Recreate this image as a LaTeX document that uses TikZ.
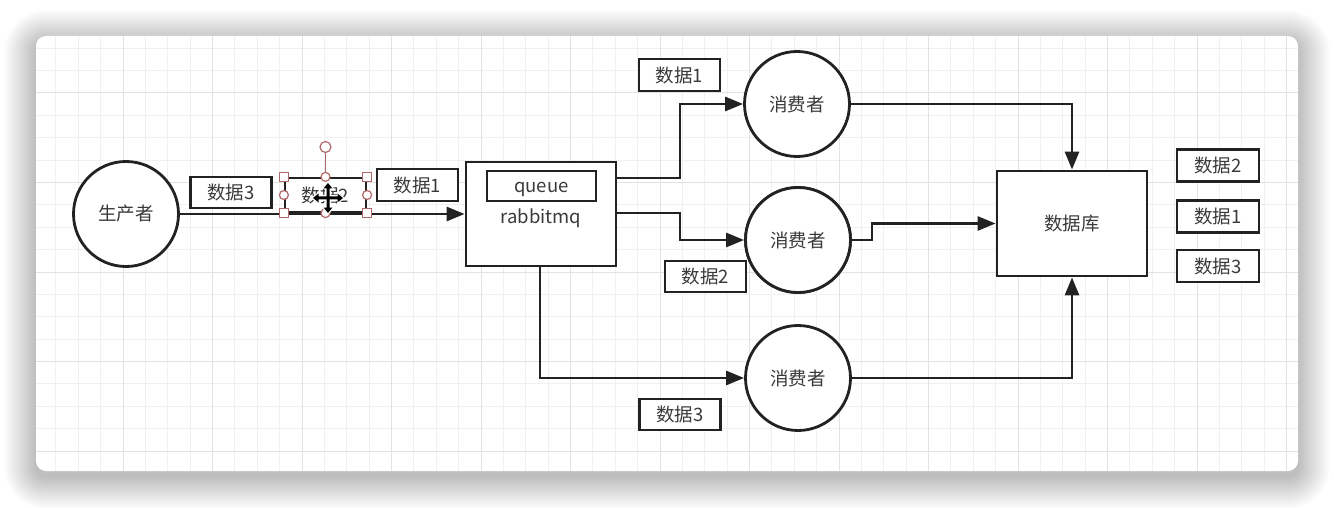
\documentclass[tikz,border=0pt]{standalone}
\usepackage{fontspec}
\setmainfont{Noto Sans CJK SC}
\usetikzlibrary{arrows.meta,calc}
\definecolor{ink}{HTML}{222222}
\definecolor{txt}{HTML}{3A3A3A}
\definecolor{gminor}{HTML}{F0F0F0}
\definecolor{gmajor}{HTML}{E2E2E2}
\definecolor{sel}{HTML}{B06868}
\tikzset{
  fnt/.style={font=\fontsize{18.5}{20}\selectfont},
  shp/.style={draw=ink, line width=2.8pt, fill=white, text=txt, fnt},
  circ/.style={shp, circle, minimum size=105pt, inner sep=0pt},
  lbl/.style={shp, rectangle, minimum width=81pt, minimum height=31pt, inner sep=0pt},
  conn/.style={draw=ink, line width=2.8pt},
  arr/.style={conn, -{Triangle[length=18pt,width=14pt]}},
  hsq/.style={draw=sel, fill=white, line width=1.2pt, minimum size=9pt, inner sep=0pt, rectangle},
  hci/.style={draw=sel, fill=white, line width=1.2pt, minimum size=9pt, inner sep=0pt, circle},
}
\begin{document}
\begin{tikzpicture}[x=1pt, y=-1pt]
\useasboundingbox (0,0) rectangle (1334,508);
\fill[white] (0,0) rectangle (1334,508);
% shadow
\foreach \i in {1,...,32} {
  \pgfmathsetmacro{\r}{10+\i}
  \fill[black, opacity=0.006, rounded corners=\r pt] (36-\i, 36-\i+6) rectangle (1298+\i, 471+\i+6);
}
% panel
\fill[white, rounded corners=10pt] (36,36) rectangle (1298,471);
\begin{scope}
  \clip[rounded corners=10pt] (36,36) rectangle (1298,471);
  \foreach \k in {-4,...,52} {
    \pgfmathsetmacro{\xx}{123+22.375*\k}
    \draw[gminor, line width=1pt] (\xx,36) -- (\xx,471);
  }
  \foreach \k in {-3,...,17} {
    \pgfmathsetmacro{\yy}{93+22.375*\k}
    \draw[gminor, line width=1pt] (36,\yy) -- (1298,\yy);
  }
  \foreach \k in {-1,...,13} {
    \pgfmathsetmacro{\xx}{123+89.5*\k}
    \draw[gmajor, line width=1pt] (\xx,36) -- (\xx,471);
  }
  \foreach \k in {-1,...,5} {
    \pgfmathsetmacro{\yy}{93+89.5*\k}
    \draw[gmajor, line width=1pt] (36,\yy) -- (1298,\yy);
  }
\end{scope}

% main nodes
\node[circ] (prod) at (126,214) {生产者};
\node[shp, rectangle, minimum width=150pt, minimum height=104pt, inner sep=0pt] (mq) at (541,214) {};
\node[shp, rectangle, minimum width=109pt, minimum height=30pt, inner sep=0pt, text height=14pt, text depth=0pt] (queue) at (541.5,186) {queue};
\node[text=txt, fnt] (rmq) at (541,218) {rabbitmq};
\node[circ] (c1) at (797,104) {消费者};
\node[circ] (c2) at (798,240) {消费者};
\node[circ] (c3) at (798,378) {消费者};
\node[shp, rectangle, minimum width=150pt, minimum height=105pt, inner sep=0pt] (db) at (1072,223.5) {数据库};

% connectors
\coordinate (m1) at (616,178);
\coordinate (m2) at (616,213);
\draw[arr] (prod) -- (mq);
\draw[arr] (m1) -- ++(64,0) |- (c1);
\draw[arr] (m2) -- ++(64,0) |- (c2);
\draw[arr] (mq.south -| 540,0) |- (c3);
\draw[arr] (c1) -| (db);
\draw[arr] (c3) -| (db);
\draw[arr] (c2) -- ++(74,0) |- (db);

% labels
\node[lbl] (a3) at (231,192.5) {数据3};
\node[lbl, minimum height=34pt, line width=2.2pt] (a2) at (325.5,195) {数据2};
\node[lbl, minimum height=32pt] (a1) at (417.5,185) {数据1};
\node[lbl, minimum height=32pt] (t1) at (679.5,75) {数据1};
\node[lbl] (t2) at (705.5,276.5) {数据2};
\node[lbl] (t3) at (680,414.5) {数据3};
\node[lbl, minimum width=82pt, minimum height=32pt] (r2) at (1218,165.5) {数据2};
\node[lbl, minimum width=82pt, minimum height=32pt] (r1) at (1218,216.5) {数据1};
\node[lbl, minimum width=82pt, minimum height=32pt] (r3) at (1218,266) {数据3};
% redraw c2 over its label edge
\node[circ] at (c2) {消费者};

% selection handles on a2
\node[hci, minimum size=11pt] (rot) at (325.5,147) {};
\draw[sel, line width=1.2pt] (rot) -- (a2.north);
\node[hsq] at (a2.north west) {};
\node[hsq] at (a2.north east) {};
\node[hsq] at (a2.south west) {};
\node[hsq] at (a2.south east) {};
\node[hci] at (a2.west) {};
\node[hci] at (a2.east) {};
\node[hci] at (a2.north) {};
\node[hci] at (a2.south) {};
% move cursor
\begin{scope}[shift={(328,198)}]
  \foreach \a in {0,90,180,270} {
    \begin{scope}[rotate=\a]
      \fill[white] (-3,0) -- (-3,-9) -- (-6.5,-9) -- (0,-17) -- (6.5,-9) -- (3,-9) -- (3,0) -- cycle;
    \end{scope}
  }
  \foreach \a in {0,90,180,270} {
    \begin{scope}[rotate=\a]
      \fill[black] (-1.5,0) -- (-1.5,-9.5) -- (-4.5,-9.5) -- (0,-15) -- (4.5,-9.5) -- (1.5,-9.5) -- (1.5,0) -- cycle;
    \end{scope}
  }
\end{scope}
\end{tikzpicture}
\end{document}
